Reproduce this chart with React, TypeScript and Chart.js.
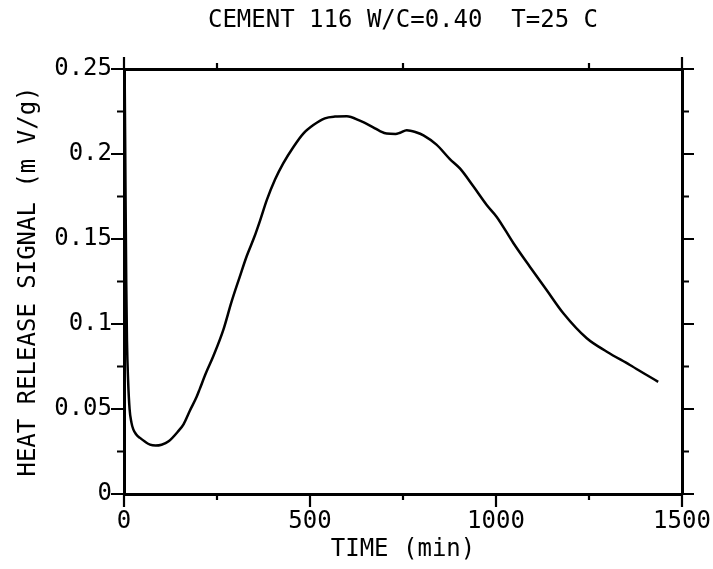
import React, { useEffect, useRef } from 'react';
import { Chart, registerables } from 'chart.js';

Chart.register(...registerables);

// ---- data ----
const times = [
  0, 2, 4, 6, 8, 11, 15, 20, 25, 33, 43, 55, 70, 85, 101, 120, 146, 160, 177, 195,
  204, 220, 240, 267, 289, 310, 330, 350, 366, 384, 406, 428, 455, 482, 509, 540,
  567, 599, 634, 670, 688, 706, 730, 742, 760, 785, 805, 840, 876, 903, 939, 975,
  1002, 1047, 1091, 1136, 1181, 1244, 1298, 1360, 1405, 1436,
];
const signal = [
  0.26, 0.24, 0.18, 0.125, 0.09, 0.067, 0.05, 0.042, 0.038, 0.035, 0.033, 0.031, 0.029,
  0.0285, 0.029, 0.031, 0.037, 0.041, 0.049, 0.057, 0.062, 0.071, 0.081, 0.0965, 0.113,
  0.127, 0.14, 0.151, 0.161, 0.173, 0.185, 0.1945, 0.204, 0.212, 0.217, 0.221, 0.222,
  0.2222, 0.2196, 0.2157, 0.2135, 0.212, 0.2118, 0.2125, 0.214, 0.2128, 0.211, 0.2055,
  0.197, 0.1915, 0.181, 0.17, 0.163, 0.1475, 0.1337, 0.12, 0.1063, 0.0916, 0.0837,
  0.0759, 0.07, 0.066,
];

const xLabelValues = [0, 500, 1000, 1500];
const yLabelValues = [0, 0.05, 0.1, 0.15, 0.2, 0.25];
const xTickValues = [0, 250, 500, 750, 1000, 1250, 1500];
const xTopTickValues = [0, 250, 750, 1250, 1500];
const yTickValues = [0, 0.025, 0.05, 0.075, 0.1, 0.125, 0.15, 0.175, 0.2, 0.225, 0.25];

const titleText = 'CEMENT 116 W/C=0.40  T=25 C';
const xTitle = 'TIME (min)';
const yTitle = 'HEAT RELEASE SIGNAL (m V/g)';

const FONT = "'DejaVu Sans Mono', monospace";
const font = { family: FONT, size: 24, weight: 'normal', lineHeight: 1.2 };

const isMajorX = (v: number) => v % 500 === 0;
const isMajorY = (v: number) => Math.abs(Math.round(v / 0.05) * 0.05 - v) < 1e-9;

const tickPlugin = {
  id: 'outerTicks',
  afterDraw(chart: any) {
    const { ctx, chartArea: a, scales } = chart;
    const x = scales.x;
    const y = scales.y;
    ctx.save();
    ctx.strokeStyle = '#000';
    ctx.lineWidth = 2.2;
    ctx.lineCap = 'butt';
    ctx.beginPath();
    for (const t of xTickValues) {
      const px = x.getPixelForValue(t);
      const len = isMajorX(t) ? 13 : 6;
      ctx.moveTo(px, a.bottom);
      ctx.lineTo(px, a.bottom + len);
    }
    for (const t of xTopTickValues) {
      const px = x.getPixelForValue(t);
      const len = t === 0 || t === 1500 ? 12 : 6;
      ctx.moveTo(px, a.top);
      ctx.lineTo(px, a.top - len);
    }
    for (const v of yTickValues) {
      const py = y.getPixelForValue(v);
      const lenL = isMajorY(v) ? 13 : 7;
      const lenR = isMajorY(v) ? 12 : 7;
      ctx.moveTo(a.left, py);
      ctx.lineTo(a.left - lenL, py);
      ctx.moveTo(a.right, py);
      ctx.lineTo(a.right + lenR, py);
    }
    ctx.stroke();
    ctx.restore();
  },
};

export default function App() {
  const ref = useRef<HTMLCanvasElement | null>(null);

  useEffect(() => {
    if (!ref.current) return;
    const points = times.map((t, i) => ({ x: t, y: signal[i] }));
    const border = { display: true, color: '#000', width: 3 };
    const chart = new Chart(ref.current, {
      type: 'line',
      data: {
        datasets: [
          {
            data: points,
            borderColor: '#000',
            borderWidth: 2.5,
            pointRadius: 0,
            fill: false,
            cubicInterpolationMode: 'monotone',
          },
        ],
      },
      options: {
        animation: false,
        responsive: false,
        devicePixelRatio: 1,
        layout: { padding: 0 },
        plugins: {
          legend: { display: false },
          tooltip: { enabled: false },
          title: { display: false },
        },
        scales: {
          x: {
            type: 'linear',
            position: 'bottom',
            min: 0,
            max: 1500,
            grid: { display: false, drawTicks: false },
            border,
            afterBuildTicks: (s: any) => {
              s.ticks = xLabelValues.map((v) => ({ value: v }));
            },
            afterFit: (s: any) => {
              s.height = 75;
              s.paddingLeft = 0;
              s.paddingRight = 0;
            },
            ticks: {
              autoSkip: false,
              maxRotation: 0,
              padding: 13,
              color: '#000',
              font,
              callback: (v: any) => String(v),
            },
            title: {
              display: true,
              text: xTitle,
              color: '#000',
              font,
              padding: { top: 5, bottom: 5 },
            },
          },
          x2: {
            type: 'linear',
            position: 'top',
            min: 0,
            max: 1500,
            grid: { display: false, drawTicks: false },
            border,
            ticks: { display: false },
            afterFit: (s: any) => {
              s.height = 69;
              s.paddingLeft = 0;
              s.paddingRight = 0;
            },
            title: {
              display: true,
              text: titleText,
              color: '#000',
              font,
              padding: { top: 6, bottom: 6 },
            },
          },
          y: {
            type: 'linear',
            position: 'left',
            min: 0,
            max: 0.25,
            grid: { display: false, drawTicks: false },
            border,
            afterBuildTicks: (s: any) => {
              s.ticks = yLabelValues.map((v) => ({ value: v }));
            },
            afterFit: (s: any) => {
              s.width = 124;
              s.paddingTop = 0;
              s.paddingBottom = 0;
            },
            ticks: {
              autoSkip: false,
              padding: 12,
              color: '#000',
              font,
              callback: (v: any) => String(Math.round(Number(v) * 1000) / 1000),
            },
            title: {
              display: true,
              text: yTitle,
              color: '#000',
              font,
              padding: { top: 14, bottom: 14 },
            },
          },
          y2: {
            type: 'linear',
            position: 'right',
            min: 0,
            max: 0.25,
            grid: { display: false, drawTicks: false },
            border,
            ticks: { display: false },
            afterFit: (s: any) => {
              s.width = 31;
              s.paddingTop = 0;
              s.paddingBottom = 0;
            },
          },
        },
      } as any,
      plugins: [tickPlugin],
    });
    return () => chart.destroy();
  }, []);

  return (
    <div style={{ position: 'fixed', left: 0, top: 0, width: 713, height: 569, background: '#fff' }}>
      <canvas ref={ref} width={713} height={569} style={{ display: 'block' }} />
    </div>
  );
}
